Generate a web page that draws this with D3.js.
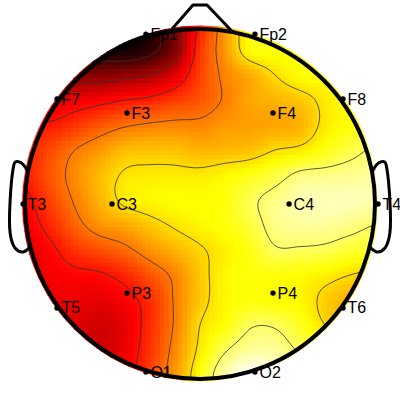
<!DOCTYPE html>
<html><head><meta charset="utf-8">
<script src="https://cdn.jsdelivr.net/npm/d3@7"></script>
<style>html,body{margin:0;padding:0;background:#fff}svg{display:block}</style>
</head><body><svg id="c" width="400" height="400"></svg>
<script>
// Electrode names and positions in head units
const channels = ["Fp1","Fp2","F7","F3","F4","F8","T3","C3","C4","T4","T5","P3","P4","T6","O1","O2"];
const channelX = [-0.309,0.314,-0.817,-0.417,0.417,0.817,-1.011,-0.503,0.509,1.017,-0.817,-0.417,0.417,0.817,-0.309,0.314];
const channelY = [0.971,0.971,0.6,0.52,0.52,0.6,0,0,0,0,-0.594,-0.509,-0.509,-0.594,-0.96,-0.96];
// Head outline in head units
const noseX = [-0.16,-0.04,0.04,0.18];
const noseY = [1.0,1.137,1.137,0.99];
const earX = [0.983,1.02,1.055,1.069,1.085,1.057,1.014,0.971];
const earY = [0.183,0.234,0.24,0.194,-0.166,-0.251,-0.274,-0.246];
// Field (0 = black, 1 = white); rows top to bottom
const gridXs = [25,50,75,100,125,150,175,200,225,250,275,300,325,350,375].map(d=>(d-200)/175);
const gridYs = [25,50,75,100,125,150,175,200,225,250,275,300,325,350,375].map(d=>(204-d)/175);
const r025 = [.05,.05,.05,.04,.02,.05,.2,.42,.6,.75,.76,.76,.76,.76,.76];
const r050 = [.05,.05,.05,.04,.03,.07,.2,.45,.6,.75,.76,.76,.76,.76,.76];
const r075 = [.2,.2,.2,.2,.22,.25,.33,.47,.57,.63,.7,.75,.76,.76,.76];
const r100 = [.33,.33,.35,.37,.4,.42,.46,.5,.56,.62,.64,.67,.72,.76,.76];
const r125 = [.42,.41,.45,.5,.54,.56,.57,.57,.6,.61,.62,.64,.72,.76,.77];
const r150 = [.42,.48,.55,.6,.65,.66,.66,.64,.65,.66,.7,.72,.77,.82,.86];
const r175 = [.42,.5,.58,.65,.71,.72,.72,.72,.74,.77,.81,.87,.88,.89,.9];
const r200 = [.38,.47,.56,.64,.72,.74,.75,.75,.76,.83,.88,.92,.93,.93,.92];
const r225 = [.36,.43,.52,.59,.62,.67,.71,.74,.76,.81,.88,.9,.9,.88,.85];
const r250 = [.33,.38,.45,.49,.53,.59,.64,.69,.73,.77,.84,.84,.83,.8,.78];
const r275 = [.33,.36,.38,.39,.43,.5,.57,.67,.74,.76,.76,.75,.73,.7,.68];
const r300 = [.33,.35,.35,.34,.37,.44,.56,.67,.74,.76,.75,.74,.68,.63,.6];
const r325 = [.33,.35,.33,.31,.34,.44,.56,.7,.76,.84,.84,.78,.7,.63,.6];
const r350 = [.33,.33,.31,.3,.35,.45,.58,.72,.84,.9,.9,.84,.8,.72,.7];
const r375 = [.33,.33,.31,.3,.36,.47,.6,.76,.92,1,.97,.9,.8,.75,.75];
const fieldRows = [r025,r050,r075,r100,r125,r150,r175,r200,r225,r250,r275,r300,r325,r350,r375];
const levels = [.1,.25,.4,.55,.7,.85];

const svg = d3.select("#c");
const sx = d3.scaleLinear().domain([-1,1]).range([25,375]);
const sy = d3.scaleLinear().domain([-1,1]).range([379,29]);
const heat = d3.scaleLinear().domain([0,.375,.75,1]).range(["#000","#f00","#ff0","#fff"]).clamp(true);
const px0 = sx(gridXs[0]), pdx = sx(gridXs[1])-sx(gridXs[0]);
const py0 = sy(gridYs[0]), pdy = sy(gridYs[1])-sy(gridYs[0]);
function cub(a,b,c,d,t){return .5*(2*b+(c-a)*t+(2*a-5*b+4*c-d)*t*t+(3*b-a-3*c+d)*t*t*t);}
function field(px,py){
  const n=gridXs.length-1,m=fieldRows.length-1;
  const u=Math.min(n,Math.max(0,(px-px0)/pdx)), v=Math.min(m,Math.max(0,(py-py0)/pdy));
  const i=Math.min(n-1,Math.floor(u)), j=Math.min(m-1,Math.floor(v));
  const ci=k=>Math.max(0,Math.min(n,k)), cj=k=>Math.max(0,Math.min(m,k));
  const row=k=>{const r=fieldRows[cj(k)];return cub(r[ci(i-1)],r[ci(i)],r[ci(i+1)],r[ci(i+2)],u-i);};
  return cub(row(j-1),row(j),row(j+1),row(j+2),v-j);
}
const defs=svg.append("defs");
defs.append("clipPath").attr("id","disc").append("circle").attr("cx",sx(0)).attr("cy",sy(0)-.5).attr("r",178);
defs.append("clipPath").attr("id","head").append("circle").attr("cx",sx(0)).attr("cy",sy(0)).attr("r",175);

// Heat cells
const cell=4.5, cells=[];
for(let j=0;j<80;j++)for(let i=0;i<80;i++)cells.push({x:20+i*cell,y:24+j*cell});
svg.append("g").attr("clip-path","url(#disc)").attr("shape-rendering","crispEdges")
 .selectAll("rect").data(cells).join("rect")
 .attr("x",d=>d.x).attr("y",d=>d.y).attr("width",cell+.5).attr("height",cell+.5)
 .attr("fill",d=>heat(field(d.x+cell/2,d.y+cell/2)));

// Contours
const fw=190,fh=190,step=2,fx0=10,fy0=14,vals=new Array(fw*fh);
for(let j=0;j<fh;j++)for(let i=0;i<fw;i++)vals[j*fw+i]=field(fx0+(i+.5)*step,fy0+(j+.5)*step);
const cont=d3.contours().size([fw,fh]).thresholds(levels)(vals);
const gp=d3.geoPath(d3.geoIdentity().scale(step).translate([fx0,fy0]));
svg.append("g").attr("clip-path","url(#head)").selectAll("path").data(cont).join("path")
 .attr("d",gp).attr("fill","none").attr("stroke","#333").attr("stroke-width",.8);

// Head
svg.append("circle").attr("cx",sx(0)).attr("cy",sy(0)).attr("r",175).attr("fill","none").attr("stroke","#000").attr("stroke-width",4);
const ln=d3.line().x(d=>sx(d[0])).y(d=>sy(d[1]));
svg.append("path").attr("d",ln(d3.zip(noseX,noseY))).attr("fill","none").attr("stroke","#000").attr("stroke-width",3).attr("stroke-linejoin","round");
const earLine=d3.line().curve(d3.curveCatmullRom).x(d=>sx(d[0])).y(d=>sy(d[1]));
svg.append("path").attr("d",earLine(d3.zip(earX,earY))).attr("fill","none").attr("stroke","#000").attr("stroke-width",3);
svg.append("path").attr("d",earLine(d3.zip(earX.map(d=>-d),earY))).attr("fill","none").attr("stroke","#000").attr("stroke-width",3);

// Electrodes
const el=svg.append("g").selectAll("g").data(channels).join("g")
 .attr("transform",(d,i)=>`translate(${sx(channelX[i])},${sy(channelY[i])})`);
el.append("circle").attr("r",2.7).attr("fill","#000");
el.append("text").text(d=>d).attr("x",4.5).attr("y",5.5).attr("font-family","Liberation Sans").attr("font-size",16).attr("fill","#000");
</script></body></html>
